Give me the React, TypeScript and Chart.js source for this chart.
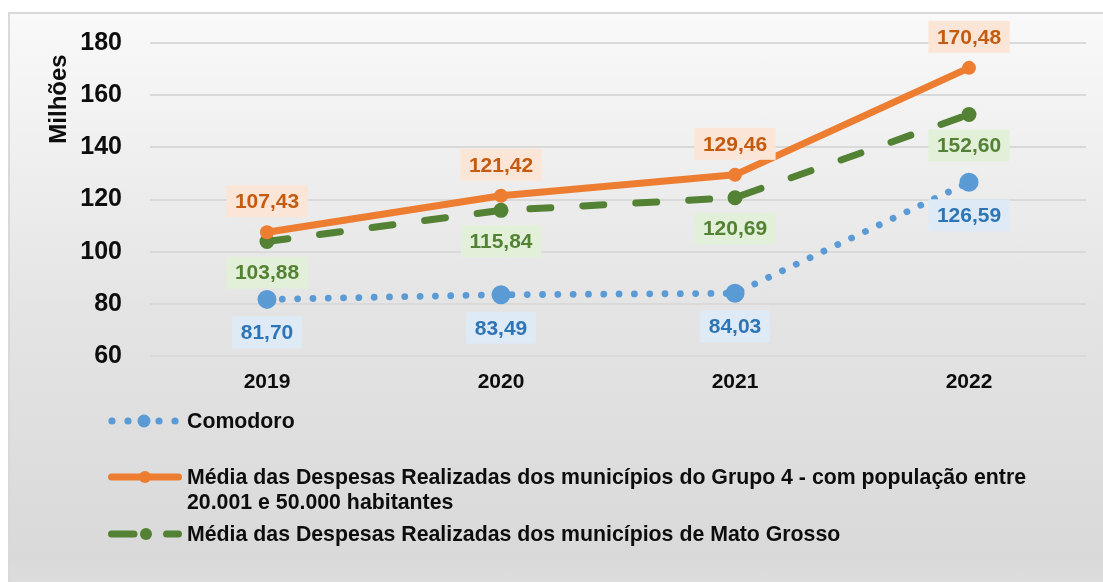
import React, { useEffect, useRef } from 'react';
import { Chart, registerables } from 'chart.js';

Chart.register(...registerables);

// ---- data ----
const years = ['2019', '2020', '2021', '2022'];
const comodoro = [81.7, 83.49, 84.03, 126.59];
const grupo4 = [107.43, 121.42, 129.46, 170.48];
const mediaMT = [103.88, 115.84, 120.69, 152.6];
const seriesNames = [
  'Comodoro',
  'Média das Despesas Realizadas dos municípios do Grupo 4 - com população entre 20.001 e 50.000 habitantes',
  'Média das Despesas Realizadas dos municípios de Mato Grosso',
];
const legendLines = [
  ['Comodoro'],
  ['Média das Despesas Realizadas dos municípios do Grupo 4 - com população entre', '20.001 e 50.000 habitantes'],
  ['Média das Despesas Realizadas dos municípios de Mato Grosso'],
];
const yMin = 60;
const yMax = 180;
const yStep = 20;
const axisTitle = 'Milhões';

const FONT = "'Liberation Sans', Arial, sans-serif";
const BLUE = '#5B9BD5';
const ORANGE = '#ED7D31';
const GREEN = '#548235';

const labelStyles = [
  { bg: '#DEEBF7', fg: '#2E75B6', dy: 33 },
  { bg: '#FBE5D6', fg: '#C55A11', dy: -31 },
  { bg: '#E2F0D9', fg: '#548235', dy: 31 },
];

const fmt = (v: number) => v.toFixed(2).replace('.', ',');

const labelsPlugin = {
  id: 'valueLabels',
  afterDatasetsDraw(chart: any) {
    const ctx = chart.ctx;
    ctx.save();
    ctx.font = `bold 21px ${FONT}`;
    ctx.textAlign = 'center';
    ctx.textBaseline = 'middle';
    chart.data.datasets.forEach((ds: any, i: number) => {
      const meta = chart.getDatasetMeta(i);
      const st = labelStyles[i];
      meta.data.forEach((pt: any, j: number) => {
        const txt = fmt(ds.data[j]);
        const w = ctx.measureText(txt).width + 17;
        const h = 32;
        const cx = pt.x;
        const cy = pt.y + st.dy;
        ctx.fillStyle = st.bg;
        ctx.fillRect(cx - w / 2, cy - h / 2, w, h);
        ctx.fillStyle = st.fg;
        ctx.fillText(txt, cx, cy + 1);
      });
    });
    ctx.restore();
  },
};

const extrasPlugin = {
  id: 'extras',
  afterDraw(chart: any) {
    const ctx = chart.ctx;
    ctx.save();
    // axis title
    ctx.translate(59, 99);
    ctx.rotate(-Math.PI / 2);
    ctx.font = `bold 24px ${FONT}`;
    ctx.fillStyle = '#0d0d0d';
    ctx.textAlign = 'center';
    ctx.textBaseline = 'middle';
    ctx.fillText(axisTitle, 0, 0);
    ctx.restore();

    // legend
    ctx.save();
    const rows = [421, 477, 534];
    // Comodoro sample
    ctx.fillStyle = BLUE;
    [112, 128, 159, 175].forEach((x) => {
      ctx.beginPath();
      ctx.arc(x, rows[0], 3.6, 0, Math.PI * 2);
      ctx.fill();
    });
    ctx.beginPath();
    ctx.arc(144, rows[0], 6.5, 0, Math.PI * 2);
    ctx.fill();
    // Grupo 4 sample
    ctx.strokeStyle = ORANGE;
    ctx.fillStyle = ORANGE;
    ctx.lineWidth = 7;
    ctx.lineCap = 'round';
    ctx.beginPath();
    ctx.moveTo(111.5, rows[1]);
    ctx.lineTo(178.5, rows[1]);
    ctx.stroke();
    ctx.beginPath();
    ctx.arc(145, rows[1], 6, 0, Math.PI * 2);
    ctx.fill();
    // MT sample
    ctx.strokeStyle = GREEN;
    ctx.fillStyle = GREEN;
    ctx.beginPath();
    ctx.moveTo(111.5, rows[2]);
    ctx.lineTo(134, rows[2]);
    ctx.moveTo(166.5, rows[2]);
    ctx.lineTo(178.5, rows[2]);
    ctx.stroke();
    ctx.beginPath();
    ctx.arc(146, rows[2], 6, 0, Math.PI * 2);
    ctx.fill();

    ctx.font = `bold 21.3px ${FONT}`;
    ctx.fillStyle = '#0d0d0d';
    ctx.textAlign = 'left';
    ctx.textBaseline = 'middle';
    legendLines.forEach((lines, i) => {
      lines.forEach((ln, k) => {
        ctx.fillText(ln, 187, rows[i] + k * 25 + 1);
      });
    });
    ctx.restore();
  },
};

export default function App() {
  const ref = useRef<HTMLCanvasElement | null>(null);

  useEffect(() => {
    if (!ref.current) return;
    const chart = new Chart(ref.current, {
      type: 'line',
      data: {
        labels: years,
        datasets: [
          {
            label: seriesNames[0],
            data: comodoro,
            borderColor: BLUE,
            backgroundColor: BLUE,
            borderWidth: 6.8,
            borderDash: [0.01, 15.3],
            borderCapStyle: 'round',
            pointRadius: 9.5,
            pointHoverRadius: 9.5,
            pointBackgroundColor: BLUE,
            pointBorderWidth: 0,
            tension: 0,
          },
          {
            label: seriesNames[1],
            data: grupo4,
            borderColor: ORANGE,
            backgroundColor: ORANGE,
            borderWidth: 7,
            borderCapStyle: 'round',
            borderJoinStyle: 'round',
            pointRadius: 7,
            pointHoverRadius: 7,
            pointBackgroundColor: ORANGE,
            pointBorderWidth: 0,
            tension: 0,
          },
          {
            label: seriesNames[2],
            data: mediaMT,
            borderColor: GREEN,
            backgroundColor: GREEN,
            borderWidth: 7,
            borderDash: [21, 32],
            borderCapStyle: 'round',
            pointRadius: 7.5,
            pointHoverRadius: 7.5,
            pointBackgroundColor: GREEN,
            pointBorderWidth: 0,
            tension: 0,
          },
        ],
      },
      options: {
        responsive: false,
        animation: false,
        devicePixelRatio: 1,
        layout: { padding: { left: 10, right: 17, top: 42, bottom: 176 } },
        plugins: {
          legend: { display: false },
          tooltip: { enabled: false },
        },
        scales: {
          x: {
            offset: true,
            grid: { display: false, drawTicks: false },
            border: { display: false },
            ticks: {
              color: '#0d0d0d',
              font: { family: FONT, size: 21, weight: 'bold' },
              padding: 14,
            },
            afterFit: (s: any) => {
              s.height = 50;
            },
          },
          y: {
            min: yMin,
            max: yMax,
            grid: { color: '#d9d9d9', lineWidth: 2, drawTicks: false },
            border: { display: false },
            ticks: {
              stepSize: yStep,
              color: '#0d0d0d',
              font: { family: FONT, size: 25, weight: 'bold' },
              padding: 28,
            },
            afterFit: (s: any) => {
              s.width = 140;
            },
          },
        },
      },
      plugins: [labelsPlugin, extrasPlugin],
    } as any);
    return () => chart.destroy();
  }, []);

  return (
    <div style={{ position: 'absolute', left: 0, top: 0, width: 1103, height: 582, overflow: 'hidden' }}>
      <div
        style={{
          position: 'absolute',
          left: 8,
          top: 12,
          width: 1110,
          height: 590,
          border: '2px solid #d9d9d9',
          background: 'linear-gradient(to bottom, #f9f9f9 0%, #e4e4e4 50%, #d9d9d9 92%, #e0e0e0 100%)',
        }}
      />
      <canvas ref={ref} width={1103} height={582} style={{ position: 'absolute', left: 0, top: 0, width: 1103, height: 582 }} />
    </div>
  );
}
